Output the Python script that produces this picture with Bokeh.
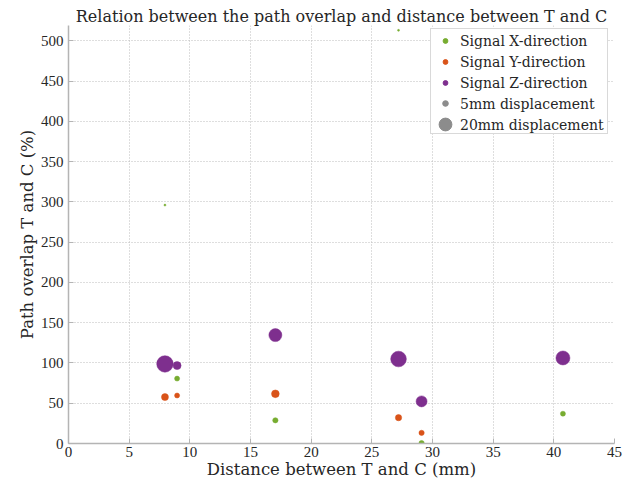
from bokeh.plotting import figure
from bokeh.models import Legend, LegendItem, ColumnDataSource, Range1d, FixedTicker
from bokeh.embed import file_html
from bokeh.resources import INLINE

# ---- data ----
x_dist_X = [7.95, 8.95, 17.05, 27.2, 29.1, 40.75]
y_overlap_X = [296, 80.6, 28.8, 513, 0.5, 37]
amp_X = [2, 5, 5.3, 2, 5.3, 5]

x_dist_Y = [7.95, 8.95, 17.05, 27.2, 29.1]
y_overlap_Y = [57.6, 59.6, 61.7, 32.1, 13.2]
amp_Y = [7, 5, 7.7, 6.3, 5.3]

x_dist_Z = [7.95, 8.95, 17.05, 27.2, 29.1, 40.75]
y_overlap_Z = [98.8, 96.7, 134.6, 104.9, 52.3, 106.2]
amp_Z = [16.5, 8, 13, 15.7, 11, 14]

series_names = ["Signal X-direction", "Signal Y-direction", "Signal Z-direction"]
size_names = ["5mm displacement", "20mm displacement"]
x_ticks = [0, 5, 10, 15, 20, 25, 30, 35, 40, 45]
y_ticks = [0, 50, 100, 150, 200, 250, 300, 350, 400, 450, 500]
x_label = "Distance between T and C (mm)"
y_label = "Path overlap T and C (%)"
title = "Relation between the path overlap and distance between T and C"

colors = ["#77AC30", "#D95319", "#7E2F8E"]
GREY = "#8c8c8c"
FONT = "DejaVu Serif"
TICKFONT = "Liberation Serif"
TXT = "#262626"
NAN = float("nan")

p = figure(width=627, height=481, output_backend="svg", toolbar_location=None,
           x_range=Range1d(0, 45), y_range=Range1d(0, 519),
           min_border_left=68, min_border_right=13, min_border_bottom=0, min_border_top=25)
p.title.text = title
p.title.text_font = FONT
p.title.text_font_size = "16px"
p.title.text_font_style = "normal"
p.title.text_color = TXT
p.title.align = "center"
p.title.standoff = 0
p.outline_line_color = None

for ax in (p.xaxis[0], p.yaxis[0]):
    ax.axis_line_color = "#b4b4b4"
    ax.axis_line_width = 1.5
    ax.major_tick_line_color = "#b4b4b4"
    ax.major_tick_in = 5
    ax.major_tick_out = 0
    ax.minor_tick_line_color = None
    ax.major_label_text_font = TICKFONT
    ax.major_label_text_font_size = "15px"
    ax.major_label_text_color = TXT
    ax.axis_label_text_font = FONT
    ax.axis_label_text_font_size = "16.5px"
    ax.axis_label_text_font_style = "normal"
    ax.axis_label_text_color = TXT

p.xaxis.ticker = FixedTicker(ticks=x_ticks)
p.yaxis.ticker = FixedTicker(ticks=y_ticks)
p.xaxis.axis_label = x_label
p.yaxis.axis_label = y_label
p.xaxis.major_label_standoff = 3
p.yaxis.major_label_standoff = 5
p.xaxis.axis_label_standoff = 0
p.yaxis.axis_label_standoff = 1

for g in (p.xgrid[0], p.ygrid[0]):
    g.grid_line_color = "#bcbcbc"
    g.grid_line_dash = "1 2"
    g.grid_line_width = 1

data = [(x_dist_X, y_overlap_X, amp_X), (x_dist_Y, y_overlap_Y, amp_Y), (x_dist_Z, y_overlap_Z, amp_Z)]
for (xs, ys, amps), c in zip(data, colors):
    src = ColumnDataSource(dict(x=xs, y=ys, s=amps))
    p.scatter("x", "y", size="s", source=src, fill_color=c, line_color=c, line_width=0.5)

# legend-only renderers (NaN data -> nothing drawn in the plot)
def dummy(**kw):
    return p.scatter([NAN], [NAN], size=5, **kw)

leg_r = [dummy(fill_color=c, line_color=c) for c in colors]
hidden = dummy(fill_alpha=0, line_alpha=0)
r5 = dummy(fill_color=GREY, line_color=GREY)
r20 = dummy(fill_color=GREY, line_color=GREY)

def blank_legend(renderer, loc, gw, gh, **kw):
    return Legend(items=[LegendItem(label=" ", renderers=[renderer])], location=loc, margin=0,
                  padding=0, spacing=0, glyph_width=gw, glyph_height=gh, label_standoff=0,
                  label_width=0, label_height=0, label_text_font_size="1px", **kw)

# box of the legend
box = blank_legend(hidden, (362, 309), 176, 104, border_line_color="#b4b4b4", border_line_width=1,
                   background_fill_color="white", background_fill_alpha=1)
p.add_layout(box, "center")

items = [LegendItem(label=n, renderers=[r]) for n, r in zip(series_names, leg_r)]
items += [LegendItem(label=n, renderers=[hidden]) for n in size_names]
content = Legend(items=items, location=(371, 308), margin=0, padding=0, spacing=0,
                 glyph_width=12, glyph_height=21, label_height=20, label_standoff=9,
                 label_text_font=FONT, label_text_font_size="14px", label_text_color=TXT,
                 border_line_color=None, background_fill_alpha=0)
p.add_layout(content, "center")

p.add_layout(blank_legend(r5, (370, 333), 14, 14, border_line_color=None, background_fill_alpha=0), "center")
p.add_layout(blank_legend(r20, (361, 303), 32, 32, border_line_color=None, background_fill_alpha=0), "center")

open("out.html", "w").write(file_html(p, INLINE))
